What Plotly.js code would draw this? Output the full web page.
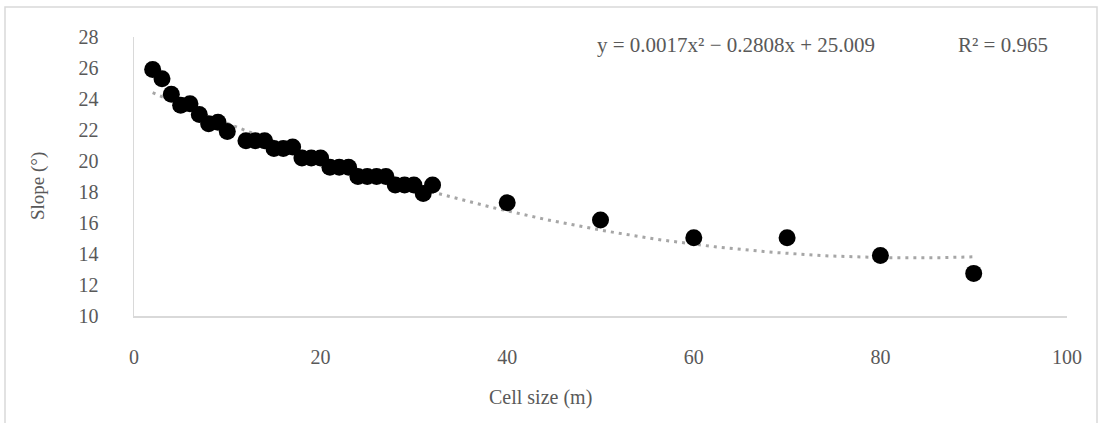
<!DOCTYPE html>
<html><head><meta charset="utf-8">
<script src="https://cdn.plot.ly/plotly-3.0.1.min.js"></script>
<style>html,body{margin:0;padding:0;background:#fff}#chart{width:1103px;height:423px}</style>
</head><body><div id="chart"></div>
<script>
const cellSize = [2,3,4,5,6,7,8,9,10,12,13,14,15,16,17,18,19,20,21,22,23,24,25,26,27,28,29,30,31,32,40,50,60,70,80,90];
const slope = [25.9,25.3,24.3,23.6,23.7,23.0,22.4,22.5,21.9,21.3,21.3,21.3,20.8,20.8,20.9,20.2,20.2,20.2,19.6,19.6,19.6,19.0,19.0,19.0,19.0,18.45,18.45,18.45,17.9,18.45,17.3,16.2,15.05,15.05,13.9,12.75];
const xTickVals = [0,20,40,60,80,100];
const yTickVals = [10,12,14,16,18,20,22,24,26,28];
const equationText = 'y = 0.0017x² − 0.2808x + 25.009';
const r2Text = 'R² = 0.965';
const xTitle = 'Cell size (m)';
const yTitle = 'Slope (°)';

// Quadratic least-squares trendline fitted to the data (as the spreadsheet does)
function quadFit(xs, ys) {
  let S = [0,0,0,0,0], T = [0,0,0];
  for (let i = 0; i < xs.length; i++) {
    let p = 1;
    for (let k = 0; k < 5; k++) { S[k] += p; if (k < 3) T[k] += p * ys[i]; p *= xs[i]; }
  }
  const A = [[S[0],S[1],S[2],T[0]],[S[1],S[2],S[3],T[1]],[S[2],S[3],S[4],T[2]]];
  for (let c = 0; c < 3; c++) {
    for (let r = c + 1; r < 3; r++) {
      const f = A[r][c] / A[c][c];
      for (let k = c; k < 4; k++) A[r][k] -= f * A[c][k];
    }
  }
  const b = [0,0,0];
  for (let r = 2; r >= 0; r--) {
    let s = A[r][3];
    for (let k = r + 1; k < 3; k++) s -= A[r][k] * b[k];
    b[r] = s / A[r][r];
  }
  return b; // c0, c1, c2
}
const coef = quadFit(cellSize, slope);
const xMin = Math.min(...cellSize), xMax = Math.max(...cellSize);
const trendX = [], trendY = [];
for (let i = 0; i <= 200; i++) {
  const x = xMin + (xMax - xMin) * i / 200;
  trendX.push(x);
  trendY.push(coef[0] + coef[1] * x + coef[2] * x * x);
}

const FONT = 'Liberation Serif, Times New Roman, serif';
const GREY = '#595959';

const L = 134, R = 36, T = 37, B = 107, W = 1103, H = 423;
const pw = W - L - R, ph = H - T - B;
const px = p => (p - L) / pw;
const py = q => (H - B - q) / ph;

const traces = [
  { x: trendX, y: trendY, type: 'scatter', mode: 'lines',
    line: { color: '#a6a6a6', width: 3, dash: '3px,5px' }, hoverinfo: 'skip', showlegend: false },
  { x: cellSize, y: slope, type: 'scatter', mode: 'markers',
    marker: { color: '#000', size: 17, line: { width: 0 } }, showlegend: false }
];

const layout = {
  width: W, height: H,
  margin: { l: L, r: R, t: T, b: B, pad: 0 },
  paper_bgcolor: '#fff', plot_bgcolor: '#fff',
  font: { family: FONT, size: 20, color: GREY },
  showlegend: false,
  xaxis: {
    range: [0, 100], tickvals: xTickVals, ticks: '', showgrid: false, zeroline: false,
    showline: true, linecolor: '#d9d9d9', linewidth: 1.5,
    ticklabelstandoff: 22, tickfont: { family: FONT, size: 20, color: GREY }
  },
  yaxis: {
    range: [10, 28], tickvals: yTickVals, ticks: '', showgrid: false, zeroline: false,
    showline: true, linecolor: '#d9d9d9', linewidth: 1.5,
    ticklabelstandoff: 30, tickfont: { family: FONT, size: 20, color: GREY }
  },
  annotations: [
    { xref: 'paper', yref: 'paper', x: px(736), y: py(45), text: equationText, showarrow: false,
      xanchor: 'center', yanchor: 'middle', font: { family: FONT, size: 21, color: GREY } },
    { xref: 'paper', yref: 'paper', x: px(1003), y: py(45), text: r2Text, showarrow: false,
      xanchor: 'center', yanchor: 'middle', font: { family: FONT, size: 21, color: GREY } },
    { xref: 'paper', yref: 'paper', x: px(540), y: py(398), text: xTitle, showarrow: false,
      xanchor: 'center', yanchor: 'middle', font: { family: FONT, size: 20, color: GREY } },
    { xref: 'paper', yref: 'paper', x: px(38), y: py(186), text: yTitle, showarrow: false, textangle: -90,
      xanchor: 'center', yanchor: 'middle', font: { family: FONT, size: 19, color: GREY } }
  ],
  shapes: [
    { type: 'rect', xref: 'paper', yref: 'paper', x0: px(5), x1: px(1097), y0: py(440), y1: py(7),
      line: { color: '#d9d9d9', width: 1.5 }, fillcolor: 'rgba(0,0,0,0)', layer: 'below' }
  ]
};

Plotly.newPlot('chart', traces, layout, { displayModeBar: false, staticPlot: true });
</script>
</body></html>
